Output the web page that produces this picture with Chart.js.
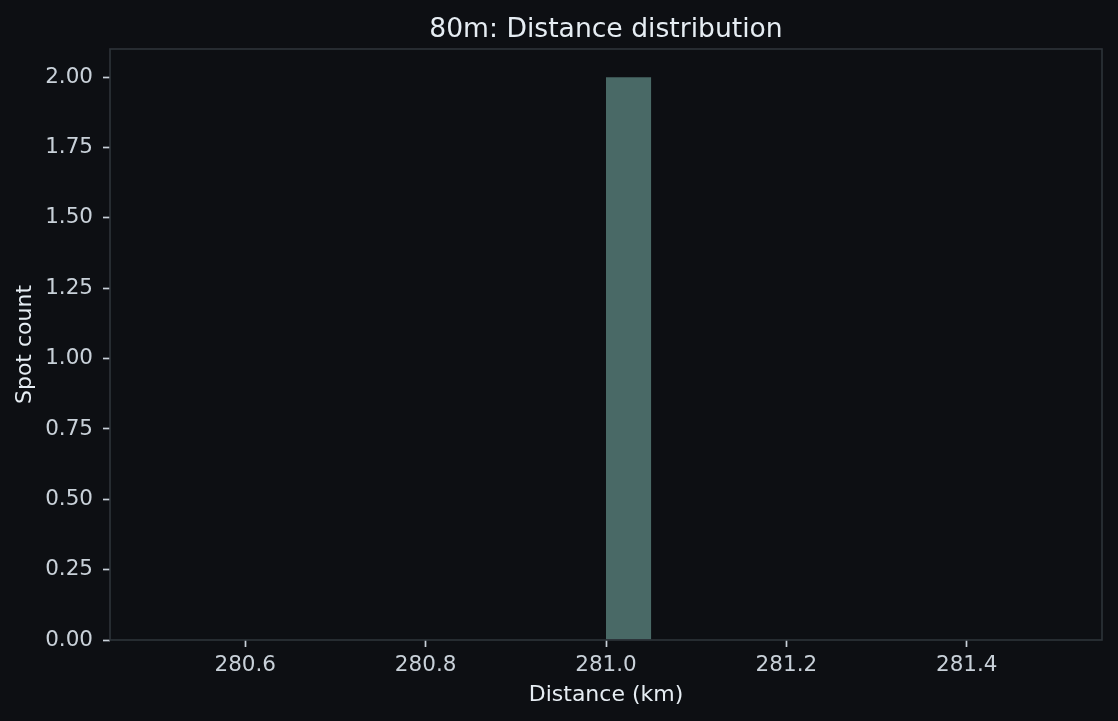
<!DOCTYPE html>
<html>
<head>
<meta charset="utf-8">
<script src="https://cdn.jsdelivr.net/npm/chart.js@4"></script>
<style>
  html, body { margin: 0; padding: 0; background: #0d0f13; }
  #wrap { width: 1118px; height: 721px; }
</style>
</head>
<body>
<div id="wrap"><canvas id="c" width="1118" height="721"></canvas></div>
<script>
// Histogram bins (centers) and counts
const binCenters = [280.525, 280.575, 280.625, 280.675, 280.725, 280.775, 280.825, 280.875, 280.925, 280.975,
                    281.025, 281.075, 281.125, 281.175, 281.225, 281.275, 281.325, 281.375, 281.425, 281.475];
const counts = [0, 0, 0, 0, 0, 0, 0, 0, 0, 0,
                2, 0, 0, 0, 0, 0, 0, 0, 0, 0];
const xTicks = [280.6, 280.8, 281.0, 281.2, 281.4];
const yTicks = [0, 0.25, 0.5, 0.75, 1.0, 1.25, 1.5, 1.75, 2.0];
const xRange = [280.45, 281.55];
const yRange = [0, 2.1];

const titleText = '80m: Distance distribution';
const xLabel = 'Distance (km)';
const yLabel = 'Spot count';

const FONT = 'DejaVu Sans';
const BG = '#0d0f13';
const FRAME = '#2e343a';
const TICKC = '#c9d1d9';
const TITLEC = '#e6edf3';
const BAR = '#496966';

const framePlugin = {
  id: 'framePlugin',
  beforeDraw(chart) {
    const ctx = chart.ctx;
    ctx.save();
    ctx.fillStyle = BG;
    ctx.fillRect(0, 0, chart.width, chart.height);
    ctx.restore();
  },
  afterDraw(chart) {
    const ctx = chart.ctx;
    const a = chart.chartArea;
    ctx.save();
    ctx.strokeStyle = FRAME;
    ctx.lineWidth = 1.6;
    ctx.strokeRect(a.left, a.top, a.right - a.left, a.bottom - a.top);
    // title
    ctx.fillStyle = TITLEC;
    ctx.font = '26.6px "' + FONT + '"';
    ctx.textAlign = 'center';
    ctx.textBaseline = 'alphabetic';
    const cx = (a.left + a.right) / 2;
    ctx.fillText(titleText, cx, 36.5);
    // x label
    ctx.font = '22px "' + FONT + '"';
    ctx.fillText(xLabel, cx, 701);
    // y label
    ctx.translate(31, (a.top + a.bottom) / 2);
    ctx.rotate(-Math.PI / 2);
    ctx.fillText(yLabel, 0, 0);
    ctx.restore();
  }
};

new Chart(document.getElementById('c'), {
  type: 'bar',
  data: {
    datasets: [{
      data: binCenters.map((x, i) => ({ x: x, y: counts[i] })),
      backgroundColor: BAR,
      borderWidth: 0,
      inflateAmount: 0,
      barPercentage: 1.0,
      categoryPercentage: 1.0
    }]
  },
  options: {
    responsive: false,
    animation: false,
    devicePixelRatio: 1,
    layout: { padding: { top: 49, right: 16, left: 0, bottom: 0 } },
    plugins: {
      legend: { display: false },
      title: { display: false },
      tooltip: { enabled: false }
    },
    scales: {
      x: {
        type: 'linear',
        min: xRange[0],
        max: xRange[1],
        offset: false,
        afterBuildTicks(scale) { scale.ticks = xTicks.map(v => ({ value: v })); },
        afterFit(scale) { scale.height = 81; },
        ticks: {
          color: TICKC,
          font: { family: FONT, size: 21.5 },
          padding: 6,
          maxRotation: 0,
          autoSkip: false,
          callback: v => Number(v).toFixed(1)
        },
        grid: {
          display: true,
          offset: false,
          drawOnChartArea: false,
          drawTicks: true,
          tickLength: 7,
          tickColor: TICKC,
          tickWidth: 1.7
        },
        border: { display: false }
      },
      y: {
        type: 'linear',
        min: yRange[0],
        max: yRange[1],
        afterBuildTicks(scale) { scale.ticks = yTicks.map(v => ({ value: v })); },
        afterFit(scale) { scale.width = 110; },
        ticks: {
          color: TICKC,
          font: { family: FONT, size: 21.5 },
          padding: 10,
          autoSkip: false,
          callback: v => Number(v).toFixed(2)
        },
        grid: {
          display: true,
          drawOnChartArea: false,
          drawTicks: true,
          tickLength: 7,
          tickColor: TICKC,
          tickWidth: 1.7
        },
        border: { display: false }
      }
    }
  },
  plugins: [framePlugin]
});
</script>
</body>
</html>
